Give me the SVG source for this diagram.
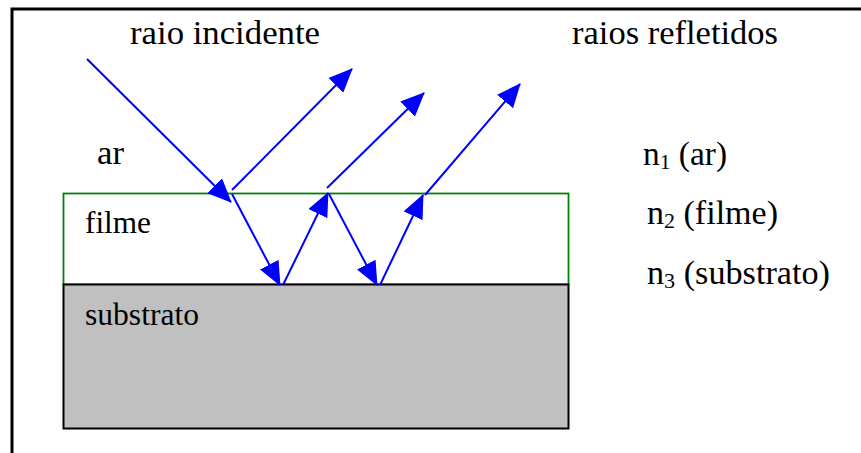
<svg xmlns="http://www.w3.org/2000/svg" width="861" height="453" viewBox="0 0 861 453">
<defs>
<style>
.lbl{font-family:"Liberation Serif","Times New Roman",serif;fill:#000;}
.ray{stroke:#0000FF;stroke-width:2;fill:none;marker-end:url(#ah);}
</style>
<marker id="ah" markerUnits="userSpaceOnUse" markerWidth="24" markerHeight="21" refX="23" refY="10.5" orient="auto">
<path d="M0,0 L24,10.5 L0,21 z" fill="#0000FF"/>
</marker>
</defs>
<rect width="861" height="453" fill="#fff"/>
<path d="M12,460 L12,9 L870,9" fill="none" stroke="#000" stroke-width="3"/>
<g id="filme">
<rect x="63.5" y="193.5" width="505" height="91" fill="#fff" stroke="#008000" stroke-width="1.8"/>
<text class="lbl" x="85" y="233" font-size="31.5" textLength="66" lengthAdjust="spacingAndGlyphs">filme</text>
</g>
<g id="substrato">
<rect x="63.5" y="284.5" width="505" height="144" fill="#C0C0C0" stroke="#000" stroke-width="2"/>
<text class="lbl" x="85" y="325" font-size="31.5" textLength="114" lengthAdjust="spacingAndGlyphs">substrato</text>
</g>
<g id="ar">
<text class="lbl" x="97" y="164" font-size="34" textLength="27" lengthAdjust="spacingAndGlyphs">ar</text>
</g>
<g id="titles">
<text class="lbl" x="130" y="44" font-size="34.6" textLength="190" lengthAdjust="spacingAndGlyphs">raio incidente</text>
<text class="lbl" x="572" y="44" font-size="34.6" textLength="206" lengthAdjust="spacingAndGlyphs">raios refletidos</text>
</g>
<g id="indices">
<text class="lbl" x="643" y="165" font-size="34" textLength="84" lengthAdjust="spacingAndGlyphs">n<tspan font-size="22" dy="4">1</tspan><tspan dy="-4"> (ar)</tspan></text>
<text class="lbl" x="647" y="224" font-size="34" textLength="131" lengthAdjust="spacingAndGlyphs">n<tspan font-size="22" dy="4">2</tspan><tspan dy="-4"> (filme)</tspan></text>
<text class="lbl" x="647" y="284" font-size="34" textLength="183" lengthAdjust="spacingAndGlyphs">n<tspan font-size="22" dy="4">3</tspan><tspan dy="-4"> (substrato)</tspan></text>
</g>
<g id="connectors">
<line class="ray" x1="87" y1="59" x2="231" y2="202"/>
<line class="ray" x1="232" y1="190" x2="352" y2="69"/>
<line class="ray" x1="232" y1="194" x2="280" y2="285"/>
<line class="ray" x1="283" y1="285" x2="328" y2="193"/>
<line class="ray" x1="327" y1="188" x2="424" y2="93"/>
<line class="ray" x1="329" y1="194" x2="377" y2="285"/>
<line class="ray" x1="380" y1="285" x2="423" y2="195"/>
<line class="ray" x1="425" y1="195" x2="520" y2="84"/>
</g>
</svg>
